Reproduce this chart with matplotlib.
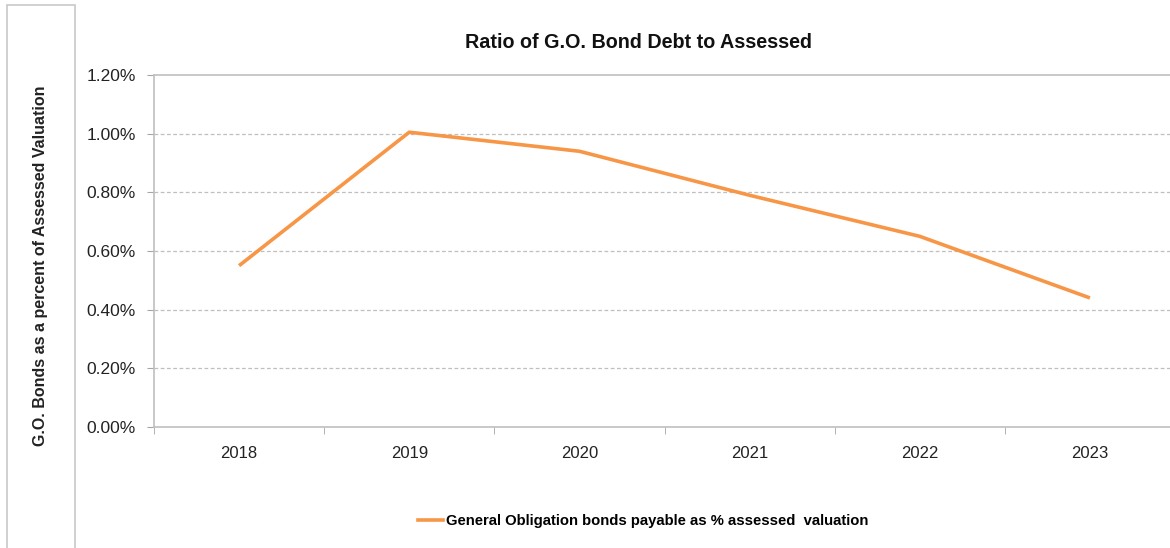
import matplotlib.pyplot as plt
from matplotlib.patches import Rectangle
from matplotlib.lines import Line2D

# data
years = ['2018', '2019', '2020', '2021', '2022', '2023']
ratio = [0.55, 1.005, 0.94, 0.79, 0.65, 0.44]
yticks = [0.0, 0.2, 0.4, 0.6, 0.8, 1.0, 1.2]

plt.rcParams['font.family'] = ['Liberation Sans', 'DejaVu Sans']

fig = plt.figure(figsize=(11.7, 5.48), dpi=100)
W, H = 1170, 548

# axes: left 154px, right 1175px, top 75px, bottom 427px
ax = fig.add_axes([154 / W, 1 - 427 / H, (1175 - 154) / W, (427 - 75) / H])

x = list(range(len(years)))
ax.plot(x, ratio, color='#F79646', lw=2.6, solid_capstyle='butt')

ax.set_xlim(-0.5, len(years) - 0.5)
ax.set_ylim(0, 1.2)
ax.set_yticks(yticks)
ax.set_yticklabels(['{:.2f}%'.format(v) for v in yticks], fontsize=12.5, color='#222222')
ax.set_xticks(x)
ax.set_xticklabels(years, fontsize=12, color='#222222')
ax.set_xticks([i - 0.5 for i in range(len(years) + 1)], minor=True)
ax.tick_params(axis='x', which='major', length=0, pad=14)
ax.tick_params(axis='x', which='minor', length=5, color='#A6A6A6', direction='out')
ax.tick_params(axis='y', length=5, color='#A6A6A6', direction='out', pad=8)

for v in yticks[1:-1]:
    ax.axhline(v, color='#BFBFBF', lw=0.9, ls=(0, (3, 2)), zorder=0)

for side in ['left', 'bottom', 'top']:
    ax.spines[side].set_color('#BFBFBF')
    ax.spines[side].set_linewidth(1.2)
ax.spines['right'].set_visible(False)

fig.text(639 / W, 1 - 42 / H, 'Ratio of G.O. Bond Debt to Assessed', ha='center', va='center',
         fontsize=14.2, fontweight='bold', color='#111111')

# left label box
fig.patches.append(Rectangle((7 / W, -0.02), (75 - 7) / W, 1 - 5 / H + 0.02,
                             transform=fig.transFigure, fill=False, edgecolor='#C8C8C8', lw=1.2))
fig.text(40 / W, 1 - 266 / H, 'G.O. Bonds as a percent of Assessed Valuation', rotation=90,
         ha='center', va='center', fontsize=11.5, fontweight='bold', color='#222222')

handle = Line2D([], [], color='#F79646', lw=2.6)
fig.legend([handle], ['General Obligation bonds payable as % assessed  valuation'],
           loc='center', bbox_to_anchor=(643 / W, 1 - 521 / H), frameon=False,
           prop={'size': 10.7, 'weight': 'bold'}, handlelength=1.7, handletextpad=0.15)

fig.savefig('out.png', dpi=100)
